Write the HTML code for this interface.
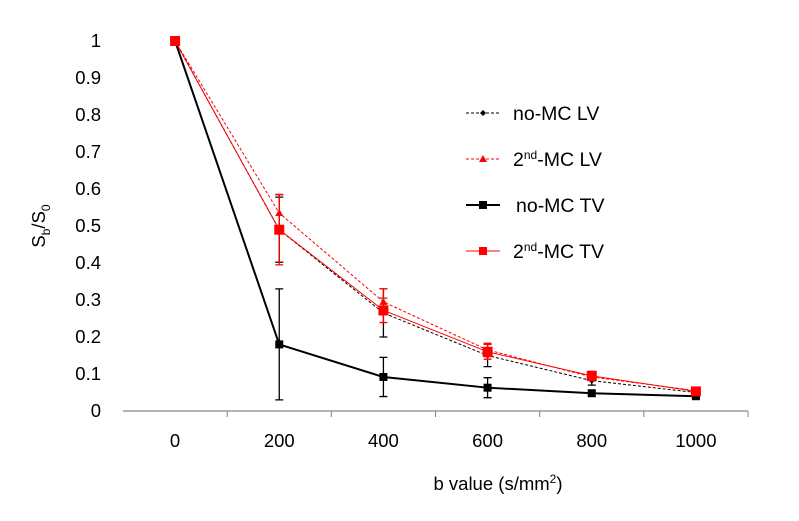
<!DOCTYPE html>
<html><head><meta charset="utf-8"><style>
body{margin:0;background:#fff;}
svg text{font-family:"Liberation Sans",Arial,sans-serif;fill:#000;}
</style></head><body>
<svg id="chart" width="799" height="516" xmlns="http://www.w3.org/2000/svg"></svg>
<script>
const categories=[0,200,400,600,800,1000];
const yTicks=[0,0.1,0.2,0.3,0.4,0.5,0.6,0.7,0.8,0.9,1];
const noMcLV=[1,0.49,0.265,0.15,0.082,0.05];
const noMcLVErr=[0,0.088,0.065,0.03,0.012,0.006];
const mc2LV=[1,0.535,0.295,0.165,0.092,0.055];
const mc2LVErr=[0,0.05,0.035,0.018,0.01,0.005];
const noMcTV=[1,0.18,0.092,0.063,0.048,0.04];
const noMcTVErr=[0,0.15,0.053,0.027,0.008,0.006];
const mc2TV=[1,0.49,0.272,0.16,0.095,0.053];
const mc2TVErr=[0,0.095,0.033,0.02,0.012,0.006];

const svg=document.getElementById('chart');
const NS='http://www.w3.org/2000/svg';
const L=123,R=748,T=41,B=411;
const bw=(R-L)/categories.length;
const x=i=>L+bw*(i+0.5);
const y=v=>B-(B-T)*v;
function mk(tag,attrs,parent){const e=document.createElementNS(NS,tag);for(const k in attrs)e.setAttribute(k,attrs[k]);(parent||svg).appendChild(e);return e;}

let ax=mk('line',{x1:L,y1:B,x2:R,y2:B,stroke:'#868686','stroke-width':1.3});


for(let i=1;i<=categories.length;i++){
  let t=mk('line',{x1:L+bw*i,y1:B,x2:L+bw*i,y2:B+6,stroke:'#868686','stroke-width':1});
  
  
}
categories.forEach((c,i)=>{
  let t=mk('text',{x:x(i),y:447,'text-anchor':'middle','font-size':18.5});
  t.textContent=c;
  
  
});
yTicks.forEach(v=>{
  let t=mk('text',{x:101,y:y(v)+6,'text-anchor':'end','font-size':18.5});
  t.textContent=v;
  
  
});
let xt=mk('text',{x:498,y:490,'text-anchor':'middle','font-size':18.5});
xt.innerHTML='b value (s/mm<tspan dy="-7" font-size="12">2</tspan><tspan dy="7">)</tspan>';


let yt=mk('text',{transform:'translate(45,226) rotate(-90)','text-anchor':'middle','font-size':18.5});
yt.innerHTML='S<tspan dy="5" font-size="12">b</tspan><tspan dy="-5">/S</tspan><tspan dy="5" font-size="12">0</tspan>';



function series(name,vals,errs,color,width,dash,marker){
  const g=mk('g',{});
  
  
  let pts=vals.map((v,i)=>x(i)+','+y(v)).join(' ');
  mk('polyline',{points:pts,fill:'none',stroke:color,'stroke-width':width,'stroke-dasharray':dash||'none'},g);
  vals.forEach((v,i)=>{
    if(errs[i]>0.005){
      const e=mk('path',{d:`M${x(i)},${y(v+errs[i])}V${y(v-errs[i])}M${x(i)-4},${y(v+errs[i])}h8M${x(i)-4},${y(v-errs[i])}h8`,stroke:color,'stroke-width':1.3,fill:'none'},g);
      
      
    }
    const m=drawMarker(marker,x(i),y(v),color,g);
    
    
  });
}
function drawMarker(type,cx,cy,color,g){
  if(type==='diamond')return mk('path',{d:`M${cx},${cy-3}L${cx+3},${cy}L${cx},${cy+3}L${cx-3},${cy}Z`,fill:color},g);
  if(type==='tri')return mk('path',{d:`M${cx},${cy-4}L${cx+4},${cy+3}L${cx-4},${cy+3}Z`,fill:color},g);
  if(type==='bigsq')return mk('rect',{x:cx-5,y:cy-5,width:10,height:10,fill:color},g);
  return mk('rect',{x:cx-4,y:cy-4,width:8,height:8,fill:color},g);
}
series('no-mc-lv',noMcLV,noMcLVErr,'#000',1,'3,2','diamond');
series('2nd-mc-lv',mc2LV,mc2LVErr,'#f00',1,'3,2','tri');
series('no-mc-tv',noMcTV,noMcTVErr,'#000',2,null,'sq');
series('2nd-mc-tv',mc2TV,mc2TVErr,'#f00',1,null,'bigsq');

const leg=[
 ['no-MC LV','#000',1,'3,2','diamond',113],
 ['2<tspan dy="-7" font-size="12">nd</tspan><tspan dy="7">-MC LV</tspan>','#f00',1,'3,2','tri',159],
 ['no-MC TV','#000',2,null,'sq',205],
 ['2<tspan dy="-7" font-size="12">nd</tspan><tspan dy="7">-MC TV</tspan>','#f00',1,null,'sq',251]
];
leg.forEach((l,k)=>{
  const g=mk('g',{});
  
  
  mk('line',{x1:466,y1:l[5],x2:500,y2:l[5],stroke:l[1],'stroke-width':l[2],'stroke-dasharray':l[3]||'none'},g);
  drawMarker(l[4],483,l[5],l[1],g);
  const t=mk('text',{x:k===2?516:513,y:l[5]+7,'font-size':19.5},g);
  t.innerHTML=l[0];
});
</script>
</body></html>
